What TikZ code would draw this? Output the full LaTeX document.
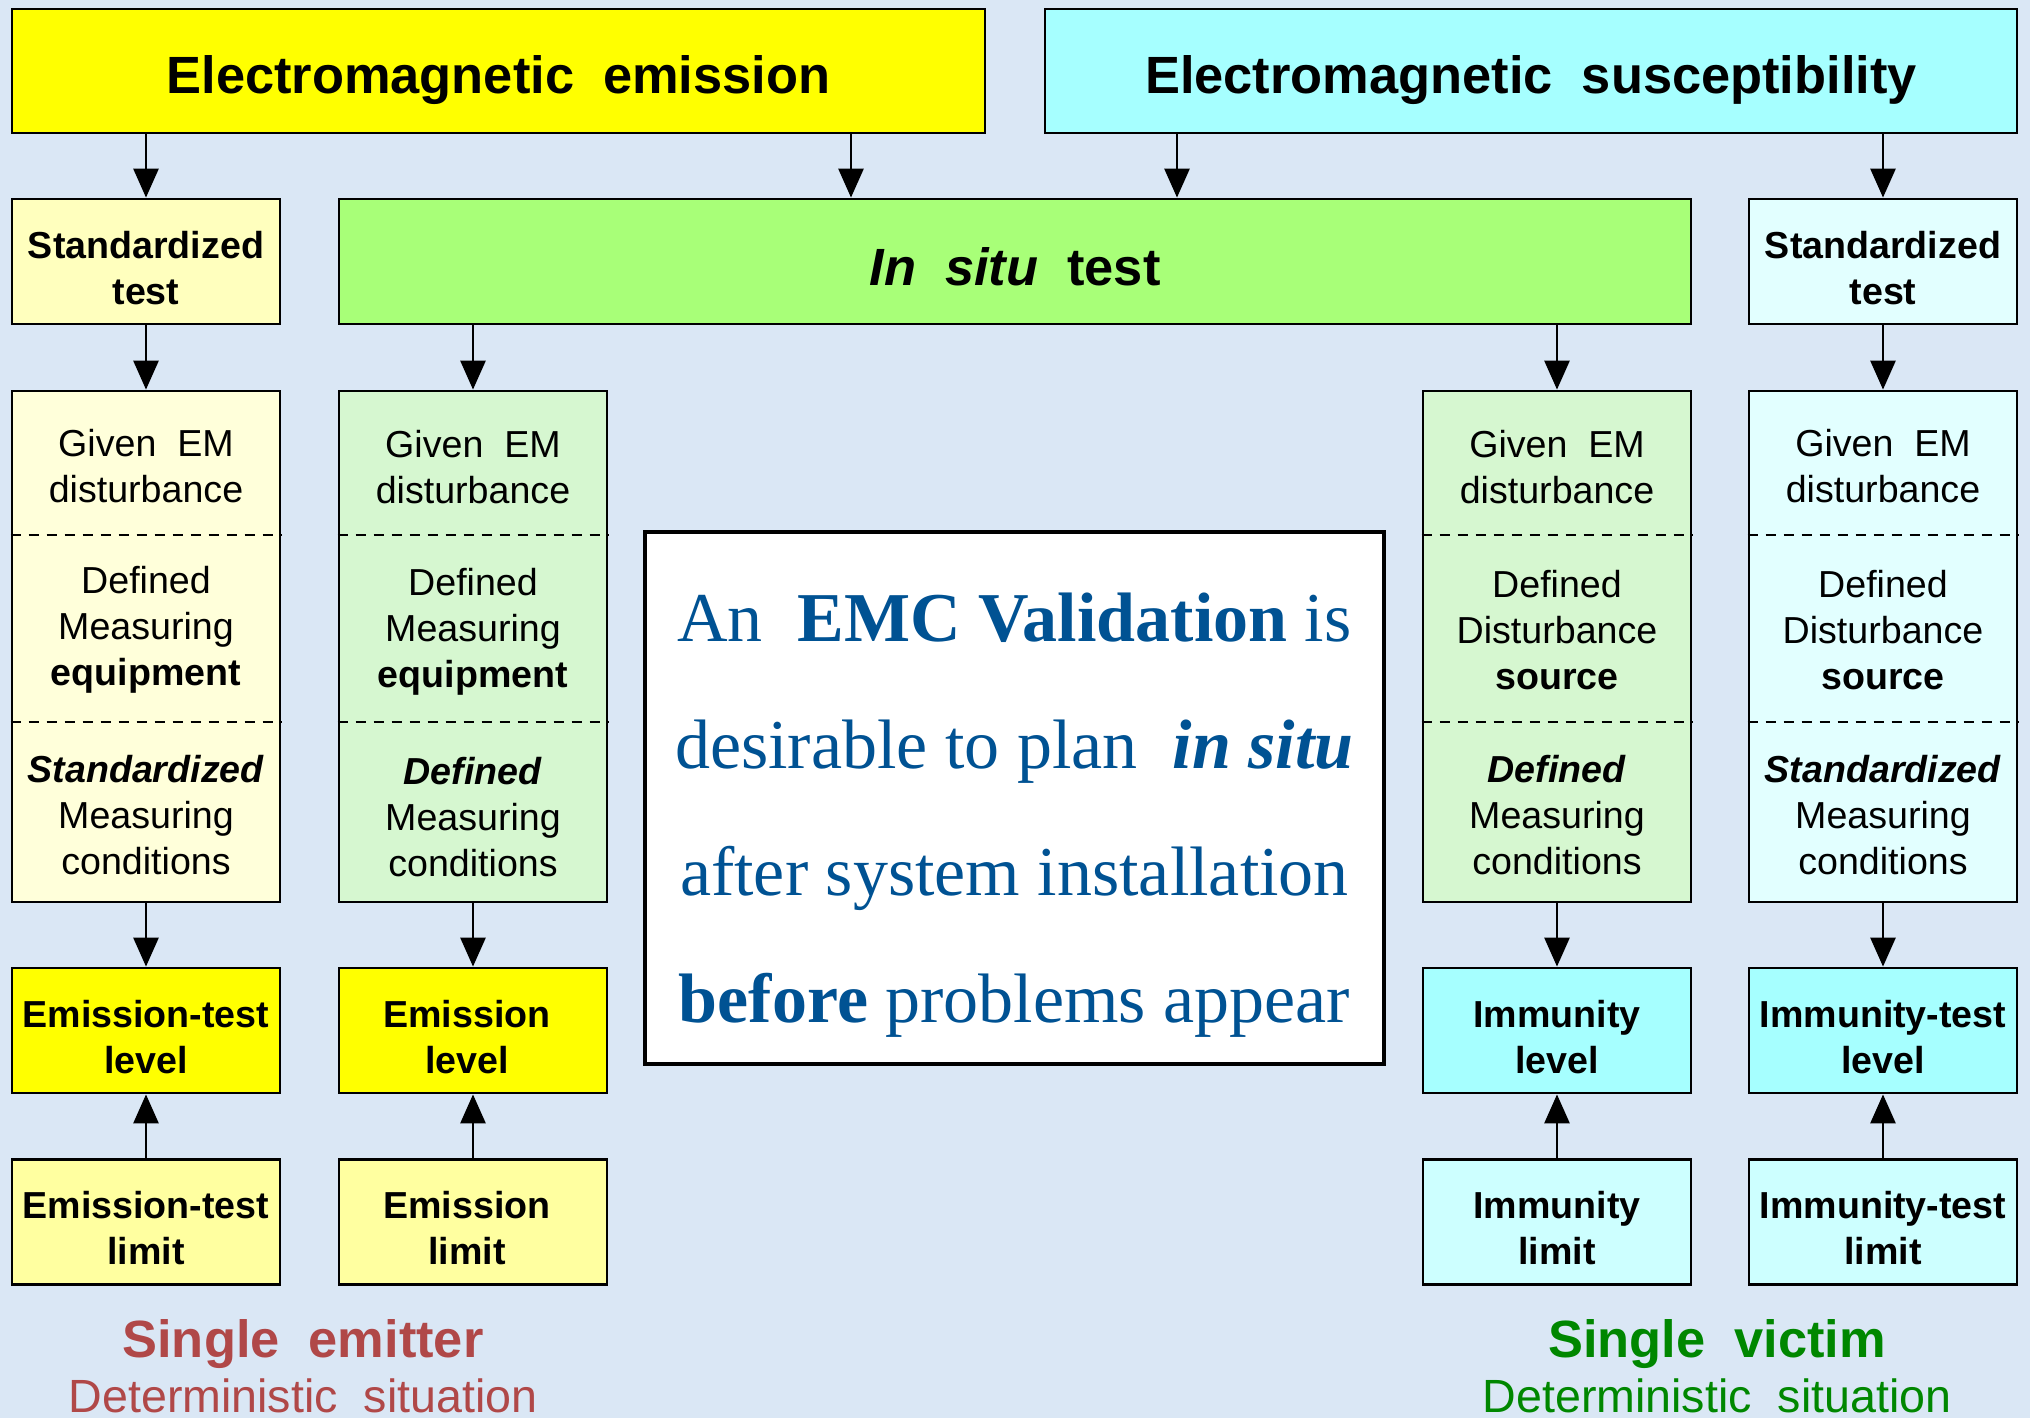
\documentclass[tikz,border=0pt]{standalone}
\usepackage{fontspec}
\setmainfont{Liberation Sans}
\newfontfamily\seriffont{Liberation Serif}
\usetikzlibrary{arrows.meta,calc}
\definecolor{bg}{RGB}{218,231,245}
\definecolor{yelbox}{RGB}{255,255,0}
\definecolor{cyanbox}{RGB}{166,255,255}
\definecolor{greenbox}{RGB}{168,255,120}
\definecolor{paleyel}{RGB}{255,255,160}
\definecolor{gridyel}{RGB}{255,255,190}
\definecolor{dotyel}{RGB}{255,255,218}
\definecolor{dotgreen}{RGB}{214,247,208}
\definecolor{dotcyan}{RGB}{226,255,255}
\definecolor{palecyan}{RGB}{205,255,255}
\definecolor{emcblue}{RGB}{0,82,147}
\definecolor{emitred}{RGB}{176,72,72}
\definecolor{victgreen}{RGB}{0,135,0}
\begin{document}
\begin{tikzpicture}[x=0.5pt,y=-0.5pt,
  box/.style={draw=black, line width=1.4pt, inner sep=0pt,
    minimum width=134pt, minimum height=62.5pt},
  btxt/.style={inner sep=0pt, align=center, yshift=-3.2pt,
    font=\fontsize{18.8}{23}\selectfont\bfseries},
  title/.style={draw=black, line width=1.4pt, inner sep=0pt, minimum height=62pt},
  ttxt/.style={inner sep=0pt, align=center, yshift=-4.3pt,
    font=\fontsize{26.2}{30}\selectfont\bfseries},
  tallbox/.style={draw=black, line width=1.4pt, inner sep=0pt,
    minimum width=134pt, minimum height=255.5pt},
  sect/.style={inner sep=0pt, align=center, font=\fontsize{18.8}{23}\selectfont},
  sep/.style={line width=1.1pt, dash pattern=on 5pt off 4pt},
  arr/.style={line width=1.4pt, -{Triangle[length=14.5pt,width=12.5pt]}}
]
\useasboundingbox (0,0) rectangle (2030,1418);
\fill[bg] (0,0) rectangle (2030,1418);

% top titles
\node[title, fill=yelbox, minimum width=486.5pt] (emi) at (498.5,71) {};
\node[ttxt] (emit) at (emi.center) {Electromagnetic\ \ emission};
\node[title, fill=cyanbox, minimum width=486pt] (sus) at (1531,71) {};
\node[ttxt] (sust) at (sus.center) {Electromagnetic\ \ susceptibility};

% second row
\node[box, fill=gridyel] (stdL) at (146,261.5) {};
\node[btxt] (stdLt) at (stdL.center) {Standardized\\test};
\node[title, fill=greenbox, minimum width=676pt, minimum height=62.5pt] (insitu) at (1015,261.5) {};
\node[ttxt, yshift=1.8pt] (insitut) at (insitu.center) {\textit{In\ \ situ}\ \ test};
\node[box, fill=dotcyan] (stdR) at (1883,261.5) {};
\node[btxt] (stdRt) at (stdR.center) {Standardized\\test};

% tall boxes
\node[tallbox, fill=dotyel] (t1) at (146,646.5) {};
\node[tallbox, fill=dotgreen] (t2) at (473,646.5) {};
\node[tallbox, fill=dotgreen] (t3) at (1557,646.5) {};
\node[tallbox, fill=dotcyan] (t4) at (1883,646.5) {};
\foreach \t in {t1,t2,t3,t4}{
  \draw[sep] (\t.west |- 0,535) -- (\t.east |- 0,535);
  \draw[sep] (\t.west |- 0,722) -- (\t.east |- 0,722);
}
% section texts
\node[sect] (t1a) at (146,466) {Given\ \ EM\\disturbance};
\node[sect] (t1b) at (146,630) {Defined\\Measuring\\\textbf{equipment}};
\node[sect] (t1c) at (146,815) {\textbf{\textit{Standardized}}\\Measuring\\conditions};
\node[sect] (t2a) at (473,467) {Given\ \ EM\\disturbance};
\node[sect] (t2b) at (473,632) {Defined\\Measuring\\\textbf{equipment}};
\node[sect] (t2c) at (473,817) {\textbf{\textit{Defined}}\\Measuring\\conditions};
\node[sect] (t3a) at (1557,467) {Given\ \ EM\\disturbance};
\node[sect] (t3b) at (1557,630) {Defined\\Disturbance\\\textbf{source}};
\node[sect] (t3c) at (1557,815) {\textbf{\textit{Defined}}\\Measuring\\conditions};
\node[sect] (t4a) at (1883,466) {Given\ \ EM\\disturbance};
\node[sect] (t4b) at (1883,630) {Defined\\Disturbance\\\textbf{source}};
\node[sect] (t4c) at (1883,815) {\textbf{\textit{Standardized}}\\Measuring\\conditions};

% level boxes
\node[box, fill=yelbox] (lev1) at (146,1030.5) {};
\node[btxt] (lev1t) at (lev1.center) {Emission-test\\level};
\node[box, fill=yelbox] (lev2) at (473,1030.5) {};
\node[btxt, xshift=-3pt] (lev2t) at (lev2.center) {Emission\\level};
\node[box, fill=cyanbox] (lev3) at (1557,1030.5) {};
\node[btxt] (lev3t) at (lev3.center) {Immunity\\level};
\node[box, fill=cyanbox] (lev4) at (1883,1030.5) {};
\node[btxt] (lev4t) at (lev4.center) {Immunity-test\\level};

% limit boxes
\node[box, fill=paleyel] (lim1) at (146,1222) {};
\node[btxt] (lim1t) at (lim1.center) {Emission-test\\limit};
\node[box, fill=paleyel] (lim2) at (473,1222) {};
\node[btxt, xshift=-3pt] (lim2t) at (lim2.center) {Emission\\limit};
\node[box, fill=palecyan] (lim3) at (1557,1222) {};
\node[btxt] (lim3t) at (lim3.center) {Immunity\\limit};
\node[box, fill=palecyan] (lim4) at (1883,1222) {};
\node[btxt] (lim4t) at (lim4.center) {Immunity-test\\limit};

% centre box
\node[draw=black, line width=1.6pt, fill=white, minimum width=369.5pt, minimum height=266pt,
  inner sep=0pt] (msg) at (1014.5,798) {};
\node[inner sep=0pt, align=center, text=emcblue, yshift=-8.5pt,
  font=\seriffont\fontsize{35}{63.5}\selectfont] (msgt) at (msg.center)
  {An\ \ \textbf{EMC Validation} is\\desirable to plan\ \ \textbf{\textit{in situ}}\\after system installation\\\textbf{before} problems appear};

% bottom labels
\node[anchor=base, inner sep=0pt, text=emitred, font=\fontsize{26.2}{30}\selectfont\bfseries] (se) at (303,1357) {Single\ \ emitter};
\node[anchor=base, inner sep=0pt, text=emitred, font=\fontsize{23.3}{28}\selectfont] (sed) at (303,1412) {Deterministic\ \ situation};
\node[anchor=base, inner sep=0pt, text=victgreen, font=\fontsize{26.2}{30}\selectfont\bfseries] (sv) at (1717,1357) {Single\ \ victim};
\node[anchor=base, inner sep=0pt, text=victgreen, font=\fontsize{23.3}{28}\selectfont] (svd) at (1717,1412) {Deterministic\ \ situation};

% connectors
\coordinate (eA) at (851,133);
\coordinate (sA) at (1177,133);
\draw[arr] (emi.south -| stdL.north) -- (stdL.north);
\draw[arr] (eA) -- (insitu.north -| eA);
\draw[arr] (sA) -- (insitu.north -| sA);
\draw[arr] (sus.south -| stdR.north) -- (stdR.north);
\draw[arr] (stdL.south) -- (t1.north);
\draw[arr] (insitu.south -| t2.north) -- (t2.north);
\draw[arr] (insitu.south -| t3.north) -- (t3.north);
\draw[arr] (stdR.south) -- (t4.north);
\foreach \i in {1,2,3,4}{
  \draw[arr] (t\i.south) -- (lev\i.north);
  \draw[arr] (lim\i.north) -- (lev\i.south);
}
\end{tikzpicture}
\end{document}
